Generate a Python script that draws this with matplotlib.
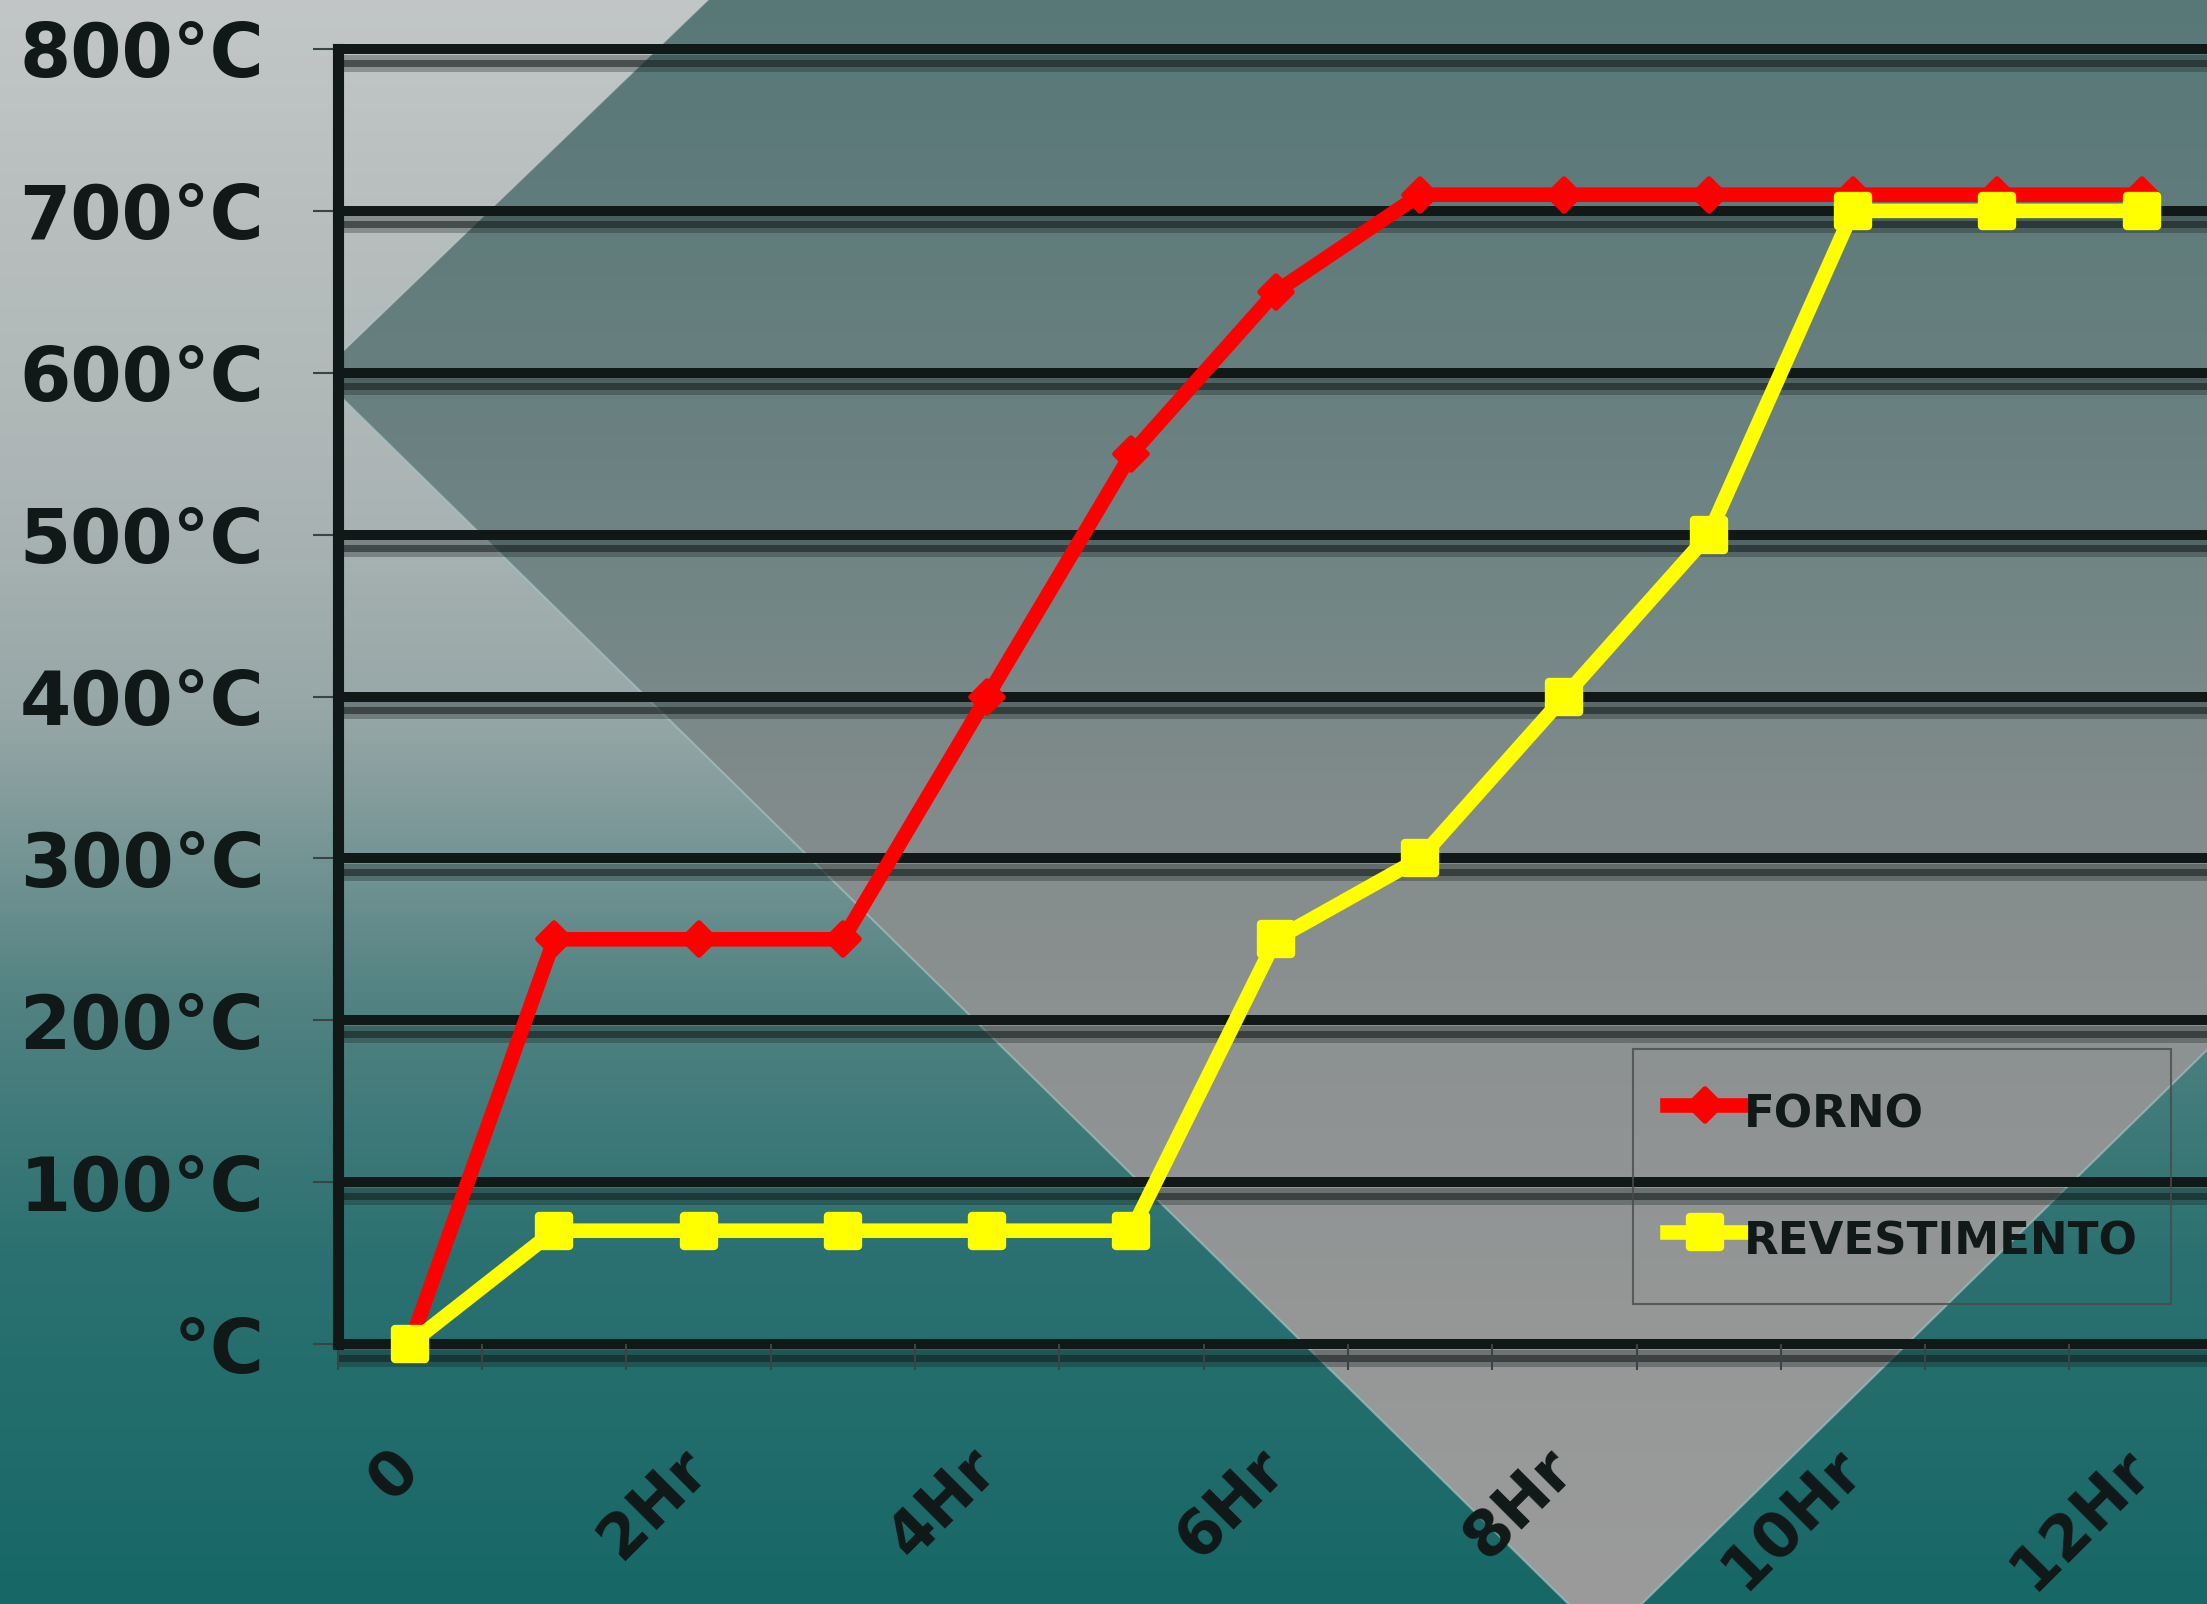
import numpy as np
import matplotlib.pyplot as plt
from matplotlib.colors import to_rgb
from matplotlib.markers import MarkerStyle
from matplotlib.patches import Polygon
from matplotlib.transforms import ScaledTranslation

# data
hours = list(range(13))
hour_ticks = [0, 2, 4, 6, 8, 10, 12]
hour_labels = ['0', '2Hr', '4Hr', '6Hr', '8Hr', '10Hr', '12Hr']
forno = [0, 250, 250, 250, 400, 550, 650, 710, 710, 710, 710, 710, 710]
revestimento = [0, 70, 70, 70, 70, 70, 250, 300, 400, 500, 700, 700, 700]
temp_ticks = [0, 100, 200, 300, 400, 500, 600, 700, 800]
temp_labels = ['°C', '100°C', '200°C', '300°C', '400°C',
               '500°C', '600°C', '700°C', '800°C']

W, H = 2207, 1604
TXT = '#111818'
fig = plt.figure(figsize=(W / 100, H / 100), dpi=100)


def vgrad(stops):
    # vertical colour ramp, one column, H rows
    ys = np.arange(H)
    pos = [s[0] for s in stops]
    cols = np.array([to_rgb(s[1]) for s in stops])
    img = np.stack([np.interp(ys, pos, cols[:, k]) for k in range(3)], axis=-1)
    return img[:, None, :]


# slide background with the diamond shape
bg = fig.add_axes([0, 0, 1, 1], zorder=-10)
bg.set_xlim(0, W)
bg.set_ylim(H, 0)
bg.axis('off')
bg.imshow(vgrad([(0, '#c2c6c6'), (500, '#abb4b4'), (720, '#96a6a6'),
                 (1000, '#528282'), (1250, '#2c7171'), (1604, '#176767')]),
          extent=(0, W, H, 0), aspect='auto', interpolation='bilinear')
pts = [(337, 357), (708, 0), (W, 0), (W, 1050), (1605, 1640), (337, 393)]
diamond = Polygon(pts, closed=True, facecolor='none', edgecolor='none')
bg.add_patch(diamond)
im = bg.imshow(vgrad([(0, '#587878'), (300, '#647d7d'), (600, '#738686'),
                      (800, '#818b8b'), (1000, '#8b9090'), (1300, '#959797'),
                      (1604, '#9b9b9b')]),
               extent=(0, W, H, 0), aspect='auto', interpolation='bilinear')
im.set_clip_path(diamond)
bg.plot([337, 708], [357, 0], color='#c4d2d2', lw=1.2, alpha=0.5)
bg.plot([337, 1605], [393, 1640], color='#a8caca', lw=1.5, alpha=0.6)
bg.plot([1605, W], [1640, 1050], color='#a8caca', lw=1.5, alpha=0.6)

# chart
ax = fig.add_axes([337.8 / W, 1 - 1344 / H, 1876 / W, 1295 / H])
ax.set_facecolor('none')

# horizontal grid: black bar with a soft dark shadow under it
yt = ax.get_yaxis_transform()
shadow_layers = [(7.5, 5, 0.3), (13.5, 7, 0.7), (19.5, 5, 0.3)]
for t in temp_ticks:
    for off, width, a in shadow_layers:
        tr = yt + ScaledTranslation(0, -off / 100, fig.dpi_scale_trans)
        ax.plot([0, 1], [t, t], transform=tr, color='#161e1e', alpha=a,
                lw=width * 0.72, clip_on=False, zorder=1.1,
                solid_capstyle='butt')
    ax.plot([0, 1], [t, t], transform=yt, color=TXT, lw=7.2,
            clip_on=False, zorder=1.3, solid_capstyle='butt')

ax.plot(hours, forno, color='#ff0000', lw=10.5, solid_joinstyle='round',
        marker=MarkerStyle('D', joinstyle='round'), ms=16, mew=4,
        mfc='#ff0000', mec='#ff0000', clip_on=False, zorder=4, label='FORNO')
ax.plot(hours, revestimento, color='#ffff00', lw=10.5, solid_joinstyle='round',
        marker=MarkerStyle('s', joinstyle='round'), ms=22, mew=6,
        mfc='#ffff00', mec='#ffff00', clip_on=False, zorder=5,
        label='REVESTIMENTO')

ax.set_xlim(-0.5, 12.5)
ax.set_ylim(0, 800)
for s in ['top', 'right', 'bottom']:
    ax.spines[s].set_visible(False)
ax.spines['left'].set_linewidth(8)
ax.spines['left'].set_color(TXT)
ax.spines['left'].set_zorder(3)

ax.set_yticks(temp_ticks, temp_labels)
ax.tick_params(axis='y', length=18, width=1.5, color='#3a4444', pad=35,
               labelsize=53, labelcolor=TXT)
for lab in ax.get_yticklabels():
    lab.set_fontweight('bold')

ax.set_xticks(hour_ticks, hour_labels)
ax.set_xticks([h - 0.5 for h in hours] + [12.5], minor=True)
ax.tick_params(axis='x', which='major', length=0, pad=83, labelsize=45,
               labelcolor=TXT)
ax.tick_params(axis='x', which='minor', length=19, width=1.5, color='#3a4444')
plt.setp(ax.get_xticklabels(), rotation=45, ha='right', va='center',
         rotation_mode='anchor', fontweight='bold')

leg = ax.legend(loc='upper left', bbox_to_anchor=(1633 / W, 1 - 1049 / H),
                bbox_transform=fig.transFigure, borderaxespad=0,
                fancybox=False, prop=dict(weight='bold', size=32.5),
                handlelength=1.7, handleheight=1.7, handletextpad=0.0,
                labelspacing=1.45, borderpad=0.75, numpoints=1)
leg.get_frame().set_edgecolor('#4a4a4a')
leg.get_frame().set_facecolor('none')
leg.get_frame().set_linewidth(1.5)
for t in leg.get_texts():
    t.set_color(TXT)

fig.savefig('out.png', dpi=100)
